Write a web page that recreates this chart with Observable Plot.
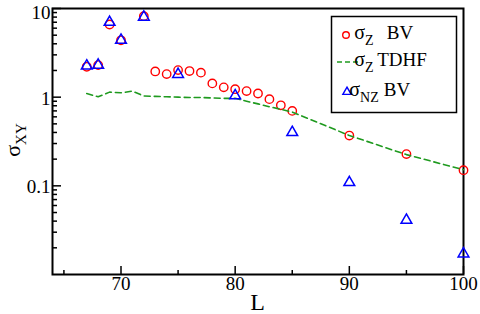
<!DOCTYPE html>
<html>
<head>
<meta charset="utf-8">
<script src="https://cdn.jsdelivr.net/npm/d3@7"></script>
<script src="https://cdn.jsdelivr.net/npm/@observablehq/plot@0.6"></script>
<style>
  html, body { margin: 0; padding: 0; background: white; }
</style>
</head>
<body>
<div id="chart"></div>
<script>
// ---- data ----
const bvZL = [67, 68, 69, 70, 72, 73, 74, 75, 76, 77, 78, 79, 80, 81, 82, 83, 84, 85, 90, 95, 100];
const bvZSigma = [2.2, 2.3, 6.6, 4.38, 8.2, 1.95, 1.82, 2.02, 1.97, 1.89, 1.43, 1.29, 1.23, 1.17, 1.10, 0.95, 0.81, 0.70, 0.369, 0.228, 0.150];

const tdhfL = [67, 68, 69, 70, 71, 72, 73, 74, 75, 76, 77, 78, 79, 80, 81, 82, 83, 84, 85, 90, 95, 100];
const tdhfSigma = [1.10, 1.01, 1.14, 1.12, 1.17, 1.03, 1.02, 1.01, 1.00, 0.99, 0.99, 0.98, 0.97, 0.97, 0.90, 0.84, 0.78, 0.73, 0.68, 0.37, 0.225, 0.152];

const bvNZL = [67, 68, 69, 70, 72, 75, 80, 85, 90, 95, 100];
const bvNZSigma = [2.25, 2.3, 7.0, 4.4, 8.0, 1.81, 1.04, 0.40, 0.109, 0.041, 0.0171];

const xTickLabels = [70, 80, 90, 100];
const xMajorTicks = [70, 80, 90, 100];
const xMinorTicks = [65, 75, 85, 95];
const yTickLabels = [0.1, 1];
const yTopLabel = [10];
const yMajorTicks = [0.1, 1, 10];
const yMinorTicks = [0.02,0.03,0.04,0.05,0.06,0.07,0.08,0.09,0.2,0.3,0.4,0.5,0.6,0.7,0.8,0.9,2,3,4,5,6,7,8,9];

const legendItems = ["BV", "TDHF", "BV"];

// ---- build tables ----
const bvZ = bvZL.map((L, i) => ({L, s: bvZSigma[i]}));
const tdhf = tdhfL.map((L, i) => ({L, s: tdhfSigma[i]}));
const bvNZ = bvNZL.map((L, i) => ({L, s: bvNZSigma[i]}));

const W = 480, H = 314, mL = 52, mR = 17, mT = 8, mB = 40;
const plotW = W - mL - mR, plotH = H - mT - mB;
const FONT = "Liberation Serif, Times New Roman, serif";

const chart = Plot.plot({
  width: W, height: H,
  marginLeft: mL, marginRight: mR, marginTop: mT, marginBottom: mB,
  style: {fontFamily: FONT, fontSize: "19px", background: "white", color: "black", overflow: "visible"},
  x: {domain: [64, 100]},
  y: {type: "log", domain: [0.01, 10]},
  marks: [
    Plot.tickX(xMajorTicks, {x: d => d, insetTop: plotH - 8, stroke: "black", strokeWidth: 1.5}),
    Plot.tickX(xMinorTicks, {x: d => d, insetTop: plotH - 4, stroke: "black", strokeWidth: 1.5}),
    Plot.tickY(yMajorTicks, {y: d => d, insetRight: plotW - 9, stroke: "black", strokeWidth: 1.5}),
    Plot.tickY(yMinorTicks, {y: d => d, insetRight: plotW - 5, stroke: "black", strokeWidth: 1.5}),
    Plot.axisX(xTickLabels, {tickSize: 0, tickPadding: 2, fontSize: 19, fontFamily: FONT, label: null}),
    Plot.axisY(yTickLabels, {tickSize: 0, tickPadding: 2, dy: 1.5, fontSize: 19, fontFamily: FONT, label: null, tickFormat: d => String(d)}),
    Plot.axisY(yTopLabel, {tickSize: 0, tickPadding: 2, dy: 4, fontSize: 19, fontFamily: FONT, label: null, tickFormat: d => String(d)}),
    Plot.frame({stroke: "black", strokeWidth: 2}),
    Plot.dot(bvZ, {x: "L", y: "s", r: 4.2, stroke: "#ff0000", strokeWidth: 1.4, fill: "none"}),
    Plot.line(tdhf, {x: "L", y: "s", stroke: "#1f9a1f", strokeWidth: 1.6, strokeDasharray: "6,4"}),
    Plot.dot(bvNZ, {x: "L", y: "s", symbol: "triangle", r: 4, stroke: "#0000ff", strokeWidth: 1.5, fill: "none"})
  ]
});

const svg = d3.select(chart);

// axis titles
svg.append("text")
  .attr("x", mL + plotW / 2).attr("y", 310)
  .attr("text-anchor", "middle")
  .attr("font-family", FONT).attr("font-size", 24)
  .text("L");

const yl = svg.append("text")
  .attr("transform", "translate(20,140) rotate(-90)")
  .attr("text-anchor", "middle")
  .attr("font-family", FONT).attr("font-size", 22);
yl.append("tspan").text("σ");
yl.append("tspan").attr("font-size", 15).attr("dy", 6).text("XY");

// legend
const lg = svg.append("g").attr("font-family", FONT);
lg.append("rect").attr("x", 331.5).attr("y", 16.5).attr("width", 125).attr("height", 96)
  .attr("fill", "white").attr("stroke", "black").attr("stroke-width", 1.5);
const rows = [35, 62, 92];
lg.append("circle").attr("cx", 346).attr("cy", rows[0]).attr("r", 3.3)
  .attr("fill", "none").attr("stroke", "#ff0000").attr("stroke-width", 1.4);
lg.append("line").attr("x1", 337).attr("x2", 361).attr("y1", rows[1]).attr("y2", rows[1])
  .attr("stroke", "#1f9a1f").attr("stroke-width", 1.6).attr("stroke-dasharray", "5,3");
lg.append("path").attr("d", d3.symbol(d3.symbolTriangle, 30)())
  .attr("transform", `translate(347,${rows[2]})`)
  .attr("fill", "none").attr("stroke", "#0000ff").attr("stroke-width", 1.4);
const subs = ["Z", "Z", "NZ"];
const labX = [400, 402, 397];
rows.forEach((cy, i) => {
  const t = lg.append("text").attr("x", 364).attr("y", cy + 4).attr("font-size", 20);
  t.append("tspan").text("σ");
  t.append("tspan").attr("font-size", 14).attr("dy", 6).text(subs[i]);
  lg.append("text").attr("x", labX[i]).attr("y", cy + 4).attr("font-size", 19).text(legendItems[i]);
});

document.getElementById("chart").appendChild(chart);
</script>
</body>
</html>
